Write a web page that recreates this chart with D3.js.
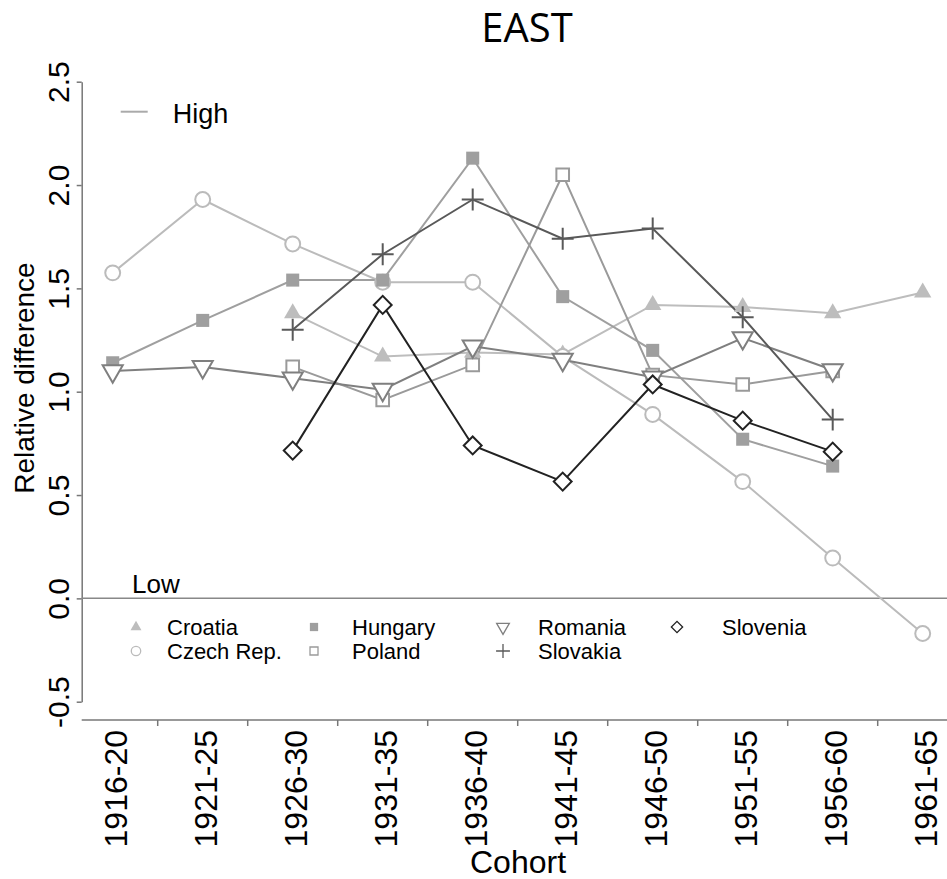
<!DOCTYPE html>
<html>
<head>
<meta charset="utf-8">
<script src="https://cdn.jsdelivr.net/npm/d3@7"></script>
<style>
  body { margin: 0; background: #fff; }
  svg { display: block; font-family: "Liberation Sans", Arial, sans-serif; }
</style>
</head>
<body>
<svg id="chart" width="947" height="879"></svg>
<script>
// cohorts on the x axis
const cohorts = ['1916-20', '1921-25', '1926-30', '1931-35', '1936-40',
                 '1941-45', '1946-50', '1951-55', '1956-60', '1961-65'];

// relative difference per country (null = no value)
const croatia  = [null, null, 1.38, 1.17, 1.19, 1.18, 1.42, 1.41, 1.38, 1.48];
const czech    = [1.575, 1.93, 1.715, 1.53, 1.53, 1.17, 0.89, 0.565, 0.195, -0.17];
const hungary  = [1.14, 1.345, 1.54, 1.54, 2.13, 1.46, 1.20, 0.77, 0.64, null];
const poland   = [null, null, 1.12, 0.96, 1.13, 2.05, 1.08, 1.035, 1.10, null];
const romania  = [1.10, 1.12, 1.065, 1.01, 1.22, 1.155, 1.07, 1.26, 1.105, null];
const slovakia = [null, null, 1.30, 1.665, 1.93, 1.74, 1.79, 1.36, 0.865, null];
const slovenia = [null, null, 0.715, 1.42, 0.74, 0.565, 1.035, 0.86, 0.71, null];

const yTicks = [-0.5, 0, 0.5, 1, 1.5, 2, 2.5];

// plus marker drawn as two thin strokes
const plusType = {
    draw(ctx, size) {
        const r = Math.sqrt(size) / 2;
        ctx.moveTo(-r, 0); ctx.lineTo(r, 0);
        ctx.moveTo(0, -r); ctx.lineTo(0, r);
    }
};

const series = [
    { name: 'Croatia',     values: croatia,  color: '#bdbdbd', type: d3.symbolTriangle, fill: true,  size: 130, rot: 0 },
    { name: 'Czech Rep.',  values: czech,    color: '#bbbbbb', type: d3.symbolCircle,   fill: false, size: 175, rot: 0 },
    { name: 'Hungary',     values: hungary,  color: '#9f9f9f', type: d3.symbolSquare,   fill: true,  size: 170, rot: 0 },
    { name: 'Poland',      values: poland,   color: '#9a9a9a', type: d3.symbolSquare,   fill: false, size: 160, rot: 0 },
    { name: 'Romania',     values: romania,  color: '#7f7f7f', type: d3.symbolTriangle, fill: false, size: 175, rot: 180 },
    { name: 'Slovakia',    values: slovakia, color: '#595959', type: plusType,          fill: false, size: 480, rot: 0 },
    { name: 'Slovenia',    values: slovenia, color: '#222222', type: d3.symbolSquare,   fill: false, size: 160, rot: 45 }
];

const svg = d3.select('#chart');

const left = 81.7, right = 947, axisY = 720;

const x = d3.scalePoint().domain(cohorts).range([112.7, 922.7]);
const y = d3.scaleLinear().domain([-0.5, 2.5]).range([701.7, 81.7]);

// title
svg.append('text')
    .attr('x', 527).attr('y', 41.5)
    .attr('text-anchor', 'middle')
    .style('font-family', '"Open Sans", sans-serif')
    .style('font-size', '40px')
    .text('EAST');

// y axis
const yAxis = svg.append('g')
    .attr('transform', `translate(${left},0)`)
    .call(d3.axisLeft(y).tickValues(yTicks)
        .tickFormat(d => d3.format('.1f')(d).replace('\u2212', '-'))
        .tickSize(5).tickSizeOuter(0));
yAxis.select('.domain').attr('stroke', '#777').attr('stroke-width', 1.5);
yAxis.selectAll('.tick line').attr('stroke', '#777').attr('stroke-width', 1.5);
yAxis.selectAll('.tick text')
    .attr('transform', 'rotate(-90)')
    .attr('x', 0).attr('y', -13).attr('dy', 0)
    .attr('text-anchor', 'middle')
    .attr('fill', '#000')
    .style('font-size', '30px')
    .style('font-family', '"Liberation Sans", Arial, sans-serif');

svg.append('text')
    .attr('transform', 'translate(34,378) rotate(-90)')
    .attr('text-anchor', 'middle')
    .style('font-size', '28px')
    .text('Relative difference');

// x axis line, tick marks between cohorts, rotated labels
svg.append('line')
    .attr('x1', left).attr('x2', right)
    .attr('y1', axisY).attr('y2', axisY)
    .attr('stroke', '#777').attr('stroke-width', 1.5);

svg.append('g').selectAll('line')
    .data(cohorts)
    .join('line')
    .attr('x1', d => x(d) + x.step() / 2).attr('x2', d => x(d) + x.step() / 2)
    .attr('y1', axisY).attr('y2', axisY + 6)
    .attr('stroke', '#777').attr('stroke-width', 1.5);

const xAxis = svg.append('g')
    .attr('transform', `translate(0,${axisY})`)
    .call(d3.axisBottom(x).tickSize(0));
xAxis.select('.domain').remove();
xAxis.selectAll('.tick text')
    .attr('transform', 'rotate(-90)')
    .attr('x', -10).attr('y', 0).attr('dy', '0.42em')
    .attr('text-anchor', 'end')
    .attr('fill', '#000')
    .style('font-size', '32px')
    .style('font-family', '"Liberation Sans", Arial, sans-serif');

svg.append('text')
    .attr('x', 518).attr('y', 873)
    .attr('text-anchor', 'middle')
    .style('font-size', '32px')
    .text('Cohort');

// zero reference line
svg.append('line')
    .attr('x1', left).attr('x2', right)
    .attr('y1', y(0)).attr('y2', y(0))
    .attr('stroke', '#888').attr('stroke-width', 1.5);

svg.append('text')
    .attr('x', 132).attr('y', 593)
    .style('font-size', '26px')
    .text('Low');

// High legend
svg.append('line')
    .attr('x1', 120.7).attr('x2', 147.7)
    .attr('y1', 111.7).attr('y2', 111.7)
    .attr('stroke', '#aaa').attr('stroke-width', 2);
svg.append('text')
    .attr('x', 172.7).attr('y', 122.7)
    .style('font-size', '27px')
    .text('High');

// series lines and markers
const line = d3.line()
    .defined(d => d.v != null)
    .x(d => x(d.c))
    .y(d => y(d.v));

series.forEach(s => {
    const pts = cohorts.map((c, i) => ({ c, v: s.values[i] }));
    svg.append('path')
        .datum(pts)
        .attr('d', line)
        .attr('fill', 'none')
        .attr('stroke', s.color)
        .attr('stroke-width', 2);
});

series.forEach(s => {
    const pts = cohorts.map((c, i) => ({ c, v: s.values[i] })).filter(d => d.v != null);
    svg.append('g').selectAll('path')
        .data(pts)
        .join('path')
        .attr('transform', d => `translate(${x(d.c)},${y(d.v)}) rotate(${s.rot})`)
        .attr('d', d3.symbol().type(s.type).size(s.size))
        .attr('fill', s.fill ? s.color : (s.type === plusType ? 'none' : '#fff'))
        .attr('stroke', s.fill ? 'none' : s.color)
        .attr('stroke-width', 2);
});

// country legend
const legendPos = [
    { sx: 136, tx: 167, y: 627 },   // Croatia
    { sx: 136, tx: 167, y: 651 },   // Czech Rep.
    { sx: 314, tx: 352, y: 627 },   // Hungary
    { sx: 314, tx: 352, y: 651 },   // Poland
    { sx: 503, tx: 538, y: 627 },   // Romania
    { sx: 503, tx: 538, y: 651 },   // Slovakia
    { sx: 677, tx: 722, y: 627 }    // Slovenia
];

const legend = svg.append('g');
series.forEach((s, i) => {
    const p = legendPos[i];
    legend.append('path')
        .attr('transform', `translate(${p.sx},${p.y}) rotate(${s.rot})`)
        .attr('d', d3.symbol().type(s.type).size(s.size * 0.4))
        .attr('fill', s.fill ? s.color : (s.type === plusType ? 'none' : '#fff'))
        .attr('stroke', s.fill ? 'none' : s.color)
        .attr('stroke-width', 1.3);
    legend.append('text')
        .attr('x', p.tx).attr('y', p.y + 7.5)
        .style('font-size', '22px')
        .text(s.name);
});
</script>
</body>
</html>
